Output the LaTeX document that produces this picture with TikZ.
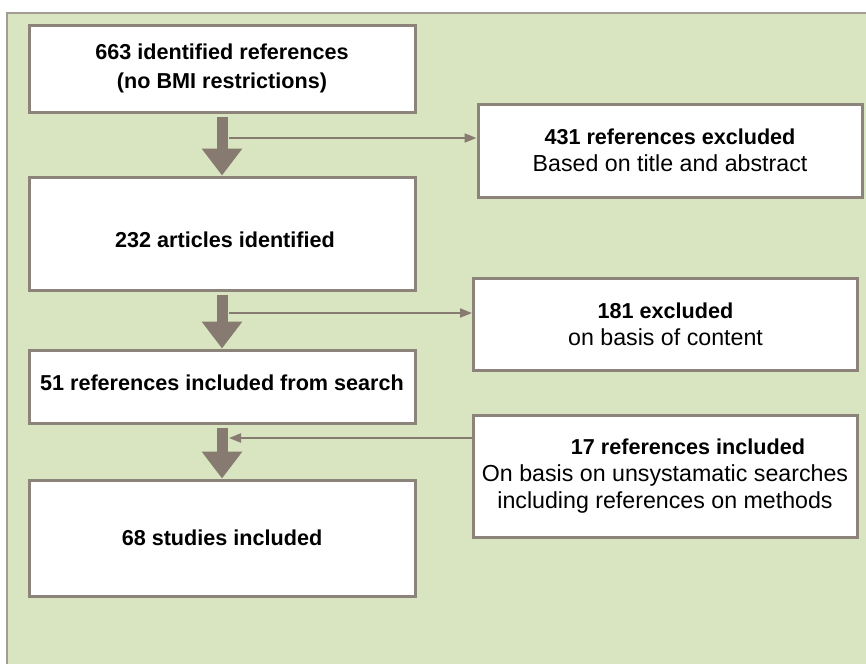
\documentclass[tikz,border=0pt]{standalone}
\usepackage{fontspec}
\setmainfont{Liberation Sans}
\usepackage{xcolor}
\usepackage{tikz}
\usetikzlibrary{positioning, arrows.meta}

\definecolor{panelgreen}{HTML}{D9E4C1}
\definecolor{panelline}{HTML}{A39C93}
\definecolor{boxline}{HTML}{8C847B}
\definecolor{arrowgray}{HTML}{877A70}

\newcommand{\hd}[1]{{\fontsize{21.6}{27}\selectfont\bfseries #1}}

\begin{document}
\begin{tikzpicture}[
        x=1pt, y=-1pt,
        on grid,
        font=\fontsize{23.2}{27}\selectfont,
        box/.style={draw=boxline, line width=3pt, fill=white, align=center,
          inner sep=0pt},
        mainbox/.style={box, minimum width=386pt},
        sidebox/.style={box, minimum width=384pt},
        bigarrow/.style={draw=arrowgray, line width=11pt, shorten <=3pt,
          -{Triangle[width=39pt, length=27pt]}},
        thinarrow/.style={draw=arrowgray, line width=2pt,
          -{Triangle[width=9pt, length=12pt]}},
      ]

      % page and panel
      \useasboundingbox[fill=white] (0,0) rectangle (866,664);
      \fill[panelgreen] (7,13) rectangle (866,664);
      \draw[panelline, line width=2pt] (7,664) -- (7,13) -- (866,13);

      % left column
      \node[mainbox, minimum height=87pt] (b1) at (222,68.5)
        {\hd{663 identified references}\\[2pt]\hd{(no BMI restrictions)}};
      \node[mainbox, minimum height=113pt, below=165pt of b1] (b2)
        {\raisebox{-6pt}[\height][\depth]{\hd{\hspace*{6pt}232 articles identified}}};
      \node[mainbox, minimum height=73pt, below=153pt of b2] (b3)
        {\raisebox{4pt}[\height][\depth]{\hd{51 references included from search}}};
      \node[mainbox, minimum height=116pt, below=151.5pt of b3] (b4)
        {\hd{68 studies included}};

      % right column
      \node[sidebox, minimum height=93pt, below right=82pt and 448pt of b1] (r1)
        {\hd{431 references excluded}\\Based on title and abstract};
      \node[sidebox, minimum height=92pt, below right=90.5pt and 443.5pt of b2] (r2)
        {\hd{181 excluded}\\on basis of content};
      \node[sidebox, minimum height=122pt, below right=89.5pt and 443pt of b3] (r3)
        {\hspace*{46pt}\hd{17 references included}\\
         On basis on unsystamatic searches\\including references on methods};

      % main flow
      \draw[bigarrow] (b1) -- (b2);
      \draw[bigarrow] (b2) -- (b3);
      \draw[bigarrow] (b3) -- (b4);

      % side branches
      \coordinate (j1) at (229,138);
      \coordinate (j2) at (229,313);
      \coordinate (j3) at (229,438);
      \draw[thinarrow] (j1) -- (j1 -| r1.west);
      \draw[thinarrow] (j2) -- (j2 -| r2.west);
      \draw[thinarrow] (j3 -| r3.west) -- (j3);
    \end{tikzpicture}
\end{document}
